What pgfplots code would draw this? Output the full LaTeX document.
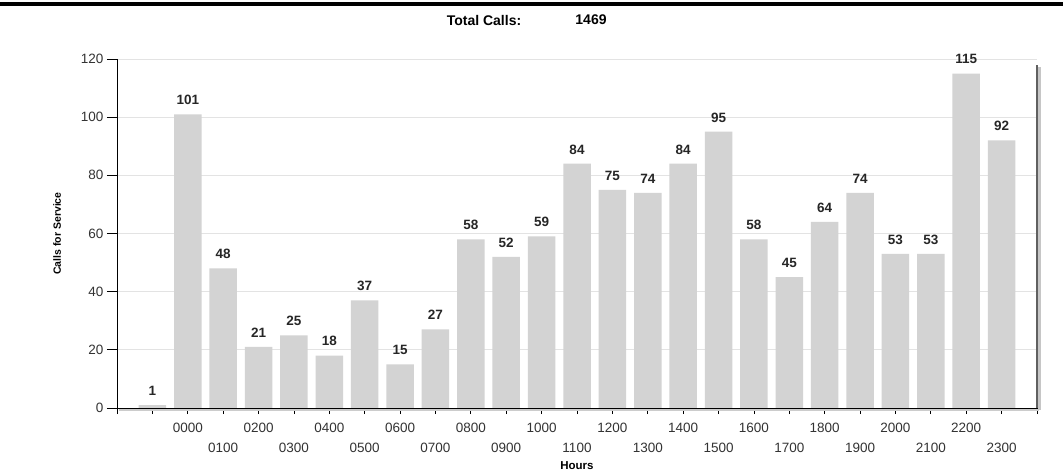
\documentclass[border=0pt]{standalone}
\usepackage{fontspec}
\setmainfont{Liberation Sans}
\usepackage{pgfplots}
\pgfplotsset{compat=1.18}
\definecolor{barc}{HTML}{D3D3D3}
\definecolor{gridc}{HTML}{E3E3E3}
\definecolor{tickc}{HTML}{333333}
\begin{document}
\begin{tikzpicture}[x=1pt,y=1pt]
\path[use as bounding box] (0,0) rectangle (1063,475);
\draw[line width=4pt,black] (0,470.5) -- (1063,470.5);
\node[font=\fontsize{14}{16}\selectfont\bfseries] at (484,455) {Total Calls:};
\node[font=\fontsize{14}{16}\selectfont\bfseries] at (591,455) {1469};
\begin{axis}[
  name=ax,
  at={(117pt,67pt)}, anchor=south west,
  scale only axis,
  width=920pt, height=349pt,
  xmin=-1, xmax=25,
  ymin=0, ymax=120,
  ytick={0,20,...,120},
  xtick={-1,0,1,3,5,7,9,11,13,15,17,19,21,23,25},
  xticklabels={,,0000,0200,0400,0600,0800,1000,1200,1400,1600,1800,2000,2200,},
  extra x ticks={2,4,6,8,10,12,14,16,18,20,22,24},
  extra x tick labels={0100,0300,0500,0700,0900,1100,1300,1500,1700,1900,2100,2300},
  extra x tick style={xticklabel style={yshift=-20pt}, grid=none},
  axis x line*=bottom,
  axis y line*=left,
  x axis line style={-},
  y axis line style={-},
  ymajorgrids,
  grid style={gridc, line width=1pt},
  major tick length=10pt,
  xtick style={black, line width=0.8pt},
  ytick style={black, line width=0.8pt},
  tick align=outside,
  x tick style={/pgfplots/major tick length=6pt},
  tick label style={font=\fontsize{13.5}{15}\selectfont, text=tickc},
  xticklabel style={yshift=-2pt},
  /pgf/number format/assume math mode=true,
  ybar, bar width=27.5pt,
  nodes near coords,
  nodes near coords style={font=\fontsize{13.5}{15}\selectfont\bfseries, text=black!85, yshift=6pt},
]
\addplot[fill=barc, draw=none] coordinates {
(0,1) (1,101) (2,48) (3,21) (4,25) (5,18) (6,37) (7,15) (8,27) (9,58)
(10,52) (11,59) (12,84) (13,75) (14,74) (15,84) (16,95) (17,58) (18,45)
(19,64) (20,74) (21,53) (22,53) (23,115) (24,92)
};
\end{axis}
\draw[gray!40, line width=2pt] ([xshift=1.5pt,yshift=-2pt]ax.south west) -- ([xshift=2pt,yshift=-2pt]ax.south east);
\draw[black, line width=1pt] (ax.south west) -- (ax.south east);
\draw[gray!45, line width=2.5pt] ([xshift=2.5pt,yshift=-2pt]ax.south east) -- ([xshift=2.5pt,yshift=-8pt]ax.north east);
\draw[gray!75!black, line width=1.2pt] (ax.south east) -- ([yshift=-6pt]ax.north east);
\node[rotate=90, font=\fontsize{10.5}{12}\selectfont\bfseries] at ([xshift=-60pt]ax.west) {Calls for Service};
\node[font=\fontsize{11.5}{13}\selectfont\bfseries] at ([yshift=-58pt]ax.south) {Hours};
\end{tikzpicture}
\end{document}
